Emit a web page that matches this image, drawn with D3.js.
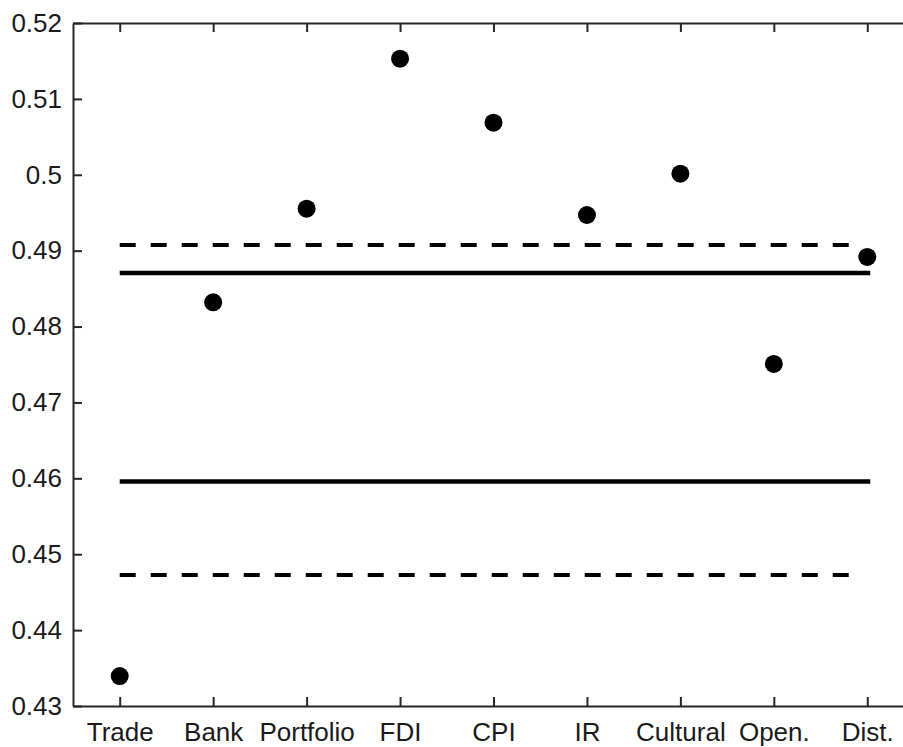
<!DOCTYPE html>
<html>
<head>
<meta charset="utf-8">
<script src="https://cdn.jsdelivr.net/npm/d3@7"></script>
<style>
  body { margin: 0; background: #fff; }
  svg { display: block; }
  .axis path, .axis line { stroke: #262626; stroke-width: 2; }
  .axis text { fill: #1a1a1a; font-size: 26px; font-family: "Liberation Sans", Arial, sans-serif; }
</style>
</head>
<body>
<div id="chart-container"></div>
<script>
// data
const categories = ["Trade", "Bank", "Portfolio", "FDI", "CPI", "IR", "Cultural", "Open.", "Dist."];
const values = [0.43395, 0.4832, 0.49553, 0.5153, 0.50686, 0.4947, 0.50014, 0.47507, 0.48917];
const solidLevels = [0.48706, 0.45957];
const dashedLevels = [0.49075, 0.44727];
const yTicks = [0.43, 0.44, 0.45, 0.46, 0.47, 0.48, 0.49, 0.5, 0.51, 0.52];

const W = 903, H = 747;
const svg = d3.select("#chart-container").append("svg")
  .attr("width", W).attr("height", H);

// scales (x runs past the right edge of the window, as in the reference)
const x = d3.scaleLinear().domain([0.5, 9.5]).range([73, 914]);
const y = d3.scaleLinear().domain([0.43, 0.52]).range([706, 23]);
const xPos = (i) => x(i + 1);

// reference lines
const gLines = svg.append("g");
gLines.selectAll(".solid").data(solidLevels).enter().append("line")
  .attr("x1", xPos(0)).attr("x2", xPos(8) + 3)
  .attr("y1", (d) => y(d)).attr("y2", (d) => y(d))
  .attr("stroke", "#000").attr("stroke-width", 4.5);
gLines.selectAll(".dashed").data(dashedLevels).enter().append("line")
  .attr("x1", xPos(0)).attr("x2", xPos(8) - 15)
  .attr("y1", (d) => y(d)).attr("y2", (d) => y(d))
  .attr("stroke", "#000").attr("stroke-width", 4)
  .attr("stroke-dasharray", "16,15");

// points
svg.append("g").selectAll("circle").data(values).enter().append("circle")
  .attr("cx", (d, i) => xPos(i))
  .attr("cy", (d) => y(d))
  .attr("r", 9)
  .attr("fill", "#000");

// axes
const xTickVals = categories.map((c, i) => i + 1);
svg.append("g").attr("class", "axis")
  .attr("transform", `translate(0, ${y(0.43)})`)
  .call(d3.axisBottom(x).tickValues(xTickVals).tickSizeInner(-9).tickSizeOuter(0)
    .tickPadding(17).tickFormat((d) => categories[d - 1]))
  .call((g) => g.selectAll("text").attr("dy", "0.71em"));

svg.append("g").attr("class", "axis")
  .attr("transform", `translate(0, ${y(0.52)})`)
  .call(d3.axisTop(x).tickValues(xTickVals).tickSizeInner(-9).tickSizeOuter(0).tickFormat(""));

svg.append("g").attr("class", "axis")
  .attr("transform", `translate(${x(0.5)}, 0)`)
  .call(d3.axisLeft(y).tickValues(yTicks).tickSizeInner(-9).tickSizeOuter(0)
    .tickPadding(11).tickFormat((d) => d3.format("")(+d.toFixed(2))));
</script>
</body>
</html>
